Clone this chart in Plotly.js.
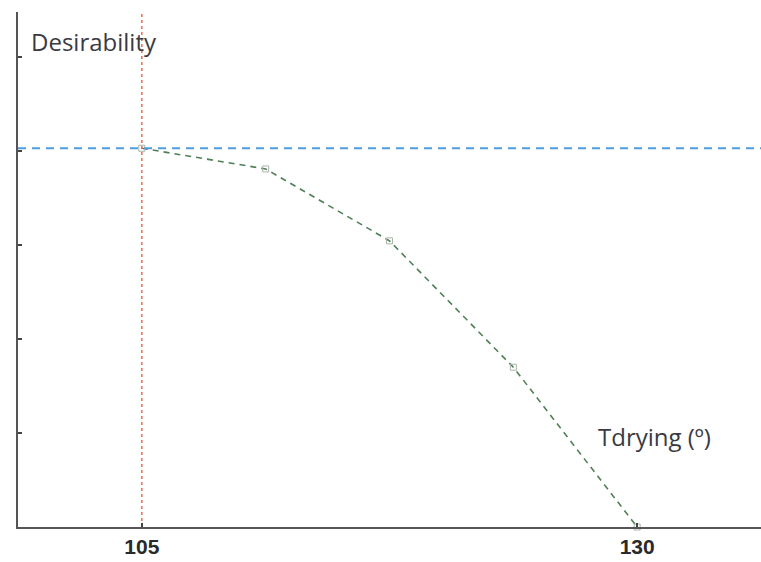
<!DOCTYPE html>
<html>
<head>
<meta charset="utf-8">
<script src="https://cdn.plot.ly/plotly-3.0.1.min.js"></script>
<style>html,body{margin:0;padding:0;background:#fff;}#chart{width:761px;height:562px;}</style>
</head>
<body>
<div id="chart"></div>
<script>
// Data
const tdrying = [105, 111.25, 117.5, 123.75, 130];
const desirability = [0.806, 0.762, 0.609, 0.340, 0.0];
const optimumX = 105;
const optimumY = 0.806;
const xTickVals = [105, 130];
const xTickText = ["105", "130"];
const yTickVals = [0, 0.2, 0.4, 0.6, 0.8, 1.0];
const xRange = [98.75, 136.25];
const yRange = [0, 1.096];

const traces = [
  {
    x: tdrying, y: desirability, type: 'scatter', mode: 'lines+markers',
    line: {color: '#4f7f57', width: 1.6, dash: '6px,5px'},
    marker: {symbol: 'square-open', size: 6, color: '#a9b3a9', line: {width: 1}},
    hoverinfo: 'skip', cliponaxis: false
  },
  {
    x: xRange, y: [optimumY, optimumY], type: 'scatter', mode: 'lines',
    line: {color: '#4d9de0', width: 1.8, dash: '8px,6px'}, hoverinfo: 'skip'
  },
  {
    x: [optimumX, optimumX], y: yRange, type: 'scatter', mode: 'lines',
    line: {color: '#ec6a4c', width: 1.5, dash: 'dot'}, hoverinfo: 'skip'
  }
];

const layout = {
  width: 761, height: 562,
  margin: {l: 18, r: 0, t: 12, b: 35},
  paper_bgcolor: '#ffffff', plot_bgcolor: '#ffffff',
  showlegend: false,
  font: {family: 'Arial, Liberation Sans, sans-serif', color: '#333'},
  xaxis: {
    range: xRange, showgrid: false, zeroline: false,
    showline: true, linecolor: '#555', linewidth: 2,
    ticks: 'inside', ticklen: 4, tickcolor: '#444', tickwidth: 2,
    tickvals: xTickVals, ticktext: xTickText,
    ticklabelstandoff: 0,
    tickfont: {family: 'Arial, Liberation Sans, sans-serif', size: 21, color: '#2a2a2a', weight: 'bold'}
  },
  yaxis: {
    range: yRange, showgrid: false, zeroline: false,
    showline: true, linecolor: '#555', linewidth: 2,
    ticks: 'inside', ticklen: 4, tickcolor: '#444', tickwidth: 2,
    tickvals: yTickVals, showticklabels: false
  },
  annotations: [
    {text: 'Desirability', xref: 'paper', yref: 'paper', x: 0.015, y: 0.943,
     xanchor: 'left', yanchor: 'middle', showarrow: false,
     font: {family: 'Open Sans, Noto Sans, sans-serif', size: 24, color: '#3a3a42'}},
    {text: 'Tdrying (º)', xref: 'paper', yref: 'paper', x: 0.778, y: 0.175,
     xanchor: 'left', yanchor: 'middle', showarrow: false,
     font: {family: 'Open Sans, Noto Sans, sans-serif', size: 24, color: '#3a3a42'}}
  ]
};

Plotly.newPlot('chart', traces, layout, {displayModeBar: false, staticPlot: true});
</script>
</body>
</html>
